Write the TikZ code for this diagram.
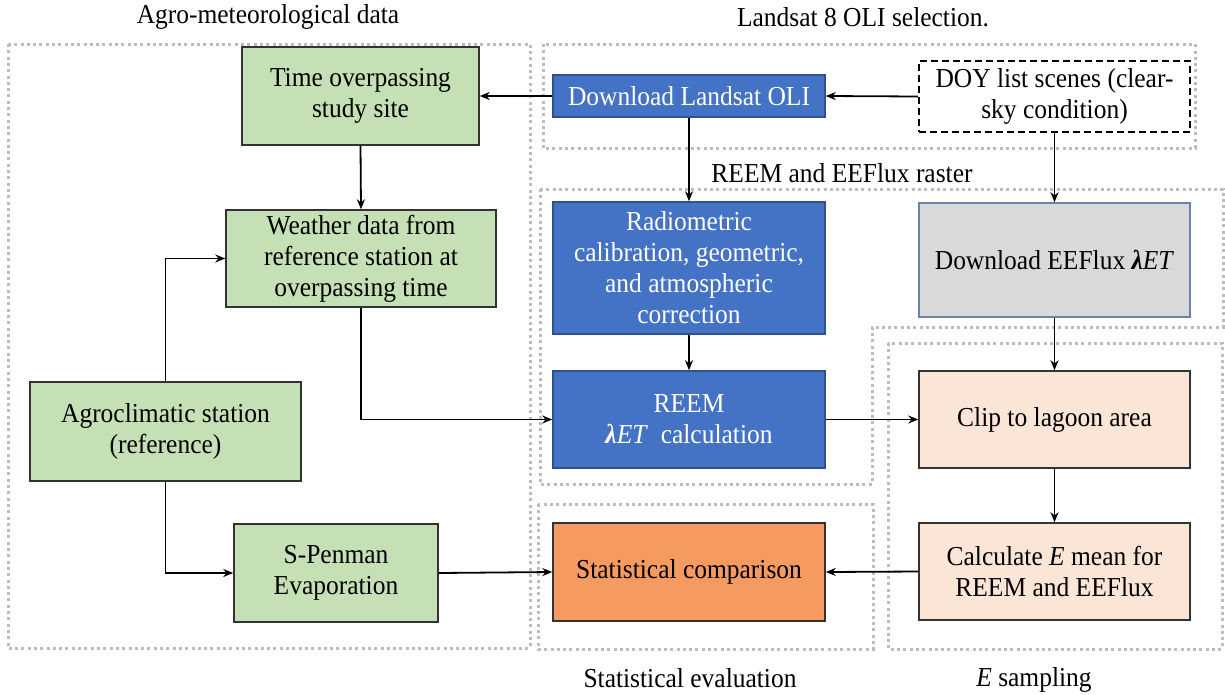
\documentclass[tikz,border=0pt]{standalone}
\usepackage{fontspec}
\setmainfont{Liberation Serif}[FakeStretch=0.93]
\usetikzlibrary{arrows.meta}
\definecolor{grn}{HTML}{C5E0B4}
\definecolor{grnb}{HTML}{333333}
\definecolor{blu}{HTML}{4472C4}
\definecolor{blub}{HTML}{2F528F}
\definecolor{org}{HTML}{F59B62}
\definecolor{peach}{HTML}{FBE5D6}
\definecolor{gry}{HTML}{D9D9D9}
\definecolor{gryb}{HTML}{6A82A8}
\definecolor{dotc}{HTML}{BDBDBD}
\begin{document}
\begin{tikzpicture}[x=1pt,y=-1pt,
  font=\fontsize{27.4}{31}\selectfont,
  box/.style={draw, line width=1.5pt, align=center, inner sep=0pt},
  greenbox/.style={box, fill=grn, draw=grnb},
  bluebox/.style={box, fill=blu, draw=blub, text=white},
  peachbox/.style={box, fill=peach, draw=grnb},
  grouprect/.style={draw=dotc, line width=3pt, dash pattern=on 3pt off 3.3pt},
  arr/.style={draw=black, line width=1.8pt, -{Stealth[length=10pt,width=8pt]}},
  title/.style={inner sep=0pt}]
\useasboundingbox (0,0) rectangle (1225,694);
% group outlines
\draw[grouprect] (8,44) rectangle (530,648);
\draw[grouprect] (543,44) rectangle (1195,148);
\draw[grouprect] (540,189) -- (1223,189) -- (1223,327) -- (872,327) -- (872,484) -- (540,484) -- cycle;
\draw[grouprect] (538,504) rectangle (873,649);
\draw[grouprect] (888,343) rectangle (1222,649);
% titles
\node[title] (t1) at (268,17) {Agro-meteorological data};
\node[title] (t2) at (863,17) {Landsat 8 OLI selection.};
\node[title] (t3) at (842,173) {REEM and EEFlux raster};
\node[title] (t4) at (690,678) {Statistical evaluation};
\node[title] (t5) at (1034,680) {\textit{E} sampling};
% nodes
\node[greenbox, minimum width=237pt, minimum height=98pt] (time) at (360.5,96) {Time overpassing\\study site};
\node[greenbox, minimum width=270pt, minimum height=97pt] (weather) at (361,258.5) {Weather data from\\reference station at\\overpassing time};
\node[greenbox, minimum width=271pt, minimum height=99pt] (agro) at (165.5,431.5) {Agroclimatic station\\(reference)};
\node[greenbox, minimum width=204pt, minimum height=98pt] (spen) at (336,573) {S-Penman\\Evaporation};
\node[bluebox, minimum width=272pt, minimum height=42pt] (dl) at (689,96) {Download Landsat OLI};
\node[box, fill=white, dash pattern=on 7pt off 4pt, line width=2pt, minimum width=271pt, minimum height=71pt] (doy) at (1054.5,96.5) {DOY list scenes (clear-\\sky condition)};
\node[bluebox, minimum width=272pt, minimum height=132pt] (rad) at (689,268) {Radiometric\\calibration, geometric,\\and atmospheric\\correction};
\node[box, fill=gry, draw=gryb, minimum width=271pt, minimum height=114pt] (eef) at (1054.5,260) {Download EEFlux {\bfseries\itshape λ}\textit{ET}};
\node[bluebox, minimum width=272pt, minimum height=97pt] (reem) at (689,419.5) {REEM\\{\bfseries\itshape λ}\textit{ET}\ \ calculation};
\node[peachbox, minimum width=271pt, minimum height=97pt] (clip) at (1054.5,419.5) {Clip to lagoon area};
\node[peachbox, minimum width=271pt, minimum height=97pt] (calc) at (1054.5,571.5) {Calculate \textit{E} mean for\\REEM and EEFlux};
\node[box, fill=org, draw=grnb, minimum width=272pt, minimum height=98pt] (stat) at (689,572) {Statistical comparison};
% connectors
\draw[arr] (dl.west) -- (time.east);
\draw[arr] (doy.west) -- (dl.east);
\draw[arr] (time.south) -- (weather.north);
\draw[arr] (agro.north) |- (weather.west);
\draw[arr] (agro.south) |- (spen.west);
\draw[arr] (weather.south) |- (reem.west);
\draw[arr] (dl.south) -- (rad.north);
\draw[arr] (rad.south) -- (reem.north);
\draw[arr] (doy.south) -- (eef.north);
\draw[arr] (eef.south) -- (clip.north);
\draw[arr] (reem.east) -- (clip.west);
\draw[arr] (clip.south) -- (calc.north);
\draw[arr] (calc.west) -- (stat.east);
\draw[arr] (spen.east) -- (stat.west);
\end{tikzpicture}
\end{document}
